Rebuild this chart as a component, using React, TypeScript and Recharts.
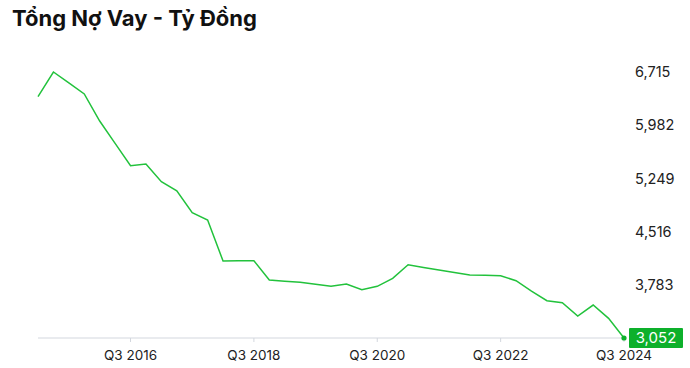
import React from "react";
import { LineChart, Line, XAxis, YAxis } from "recharts";

const quarters = [
  "Q1 2015","Q2 2015","Q3 2015","Q4 2015",
  "Q1 2016","Q2 2016","Q3 2016","Q4 2016",
  "Q1 2017","Q2 2017","Q3 2017","Q4 2017",
  "Q1 2018","Q2 2018","Q3 2018","Q4 2018",
  "Q1 2019","Q2 2019","Q3 2019","Q4 2019",
  "Q1 2020","Q2 2020","Q3 2020","Q4 2020",
  "Q1 2021","Q2 2021","Q3 2021","Q4 2021",
  "Q1 2022","Q2 2022","Q3 2022","Q4 2022",
  "Q1 2023","Q2 2023","Q3 2023","Q4 2023",
  "Q1 2024","Q2 2024","Q3 2024",
];

const debt = [
  6375, 6715, 6565, 6412,
  6040, 5733, 5425, 5448,
  5204, 5080, 4777, 4677,
  4112, 4115, 4116, 3851,
  3834, 3819, 3792, 3764,
  3796, 3717, 3764, 3874,
  4061, 4023, 3988, 3954,
  3920, 3915, 3910, 3841,
  3699, 3566, 3538, 3355,
  3506, 3323, 3052,
];

const xTicks = ["Q3 2016", "Q3 2018", "Q3 2020", "Q3 2022", "Q3 2024"];
const yTicks = [3052, 3783, 4516, 5249, 5982, 6715];

const title = "Tổng Nợ Vay - Tỷ Đồng";

const data = quarters.map((q, i) => ({ q, v: debt[i] }));
const lastValue = debt[debt.length - 1];

const GREEN = "#22c23c";
const BOX = "#0db02b";
const FONT = "Inter, 'Noto Sans', sans-serif";

const fmt = (n: number) => n.toLocaleString("en-US");

const YTick = (props: any) => {
  const { x, y, payload } = props;
  if (payload.value === lastValue) {
    return (
      <g>
        <rect x={x - 6} y={y - 10} width={54} height={20} fill={BOX} rx={1} />
        <text x={x - 6 + 27} y={y} dy="0.355em" textAnchor="middle" fill="#fff" fontSize={15} fontFamily={FONT}>
          {fmt(payload.value)}
        </text>
      </g>
    );
  }
  return (
    <text x={x} y={y} dy="0.355em" textAnchor="start" fill="#222" fontSize={14.5} fontFamily={FONT}>
      {fmt(payload.value)}
    </text>
  );
};

const LastDot = (props: any) => {
  const { cx, cy, index } = props;
  if (index !== data.length - 1) return <g key={index} />;
  return <circle key={index} cx={cx} cy={cy} r={2.6} fill={BOX} />;
};

export default function App() {
  return (
    <div style={{ position: "absolute", left: 0, top: 0, width: 690, height: 368, background: "#fff" }}>
      <div
        style={{
          position: "absolute",
          left: 12,
          top: 5,
          fontFamily: FONT,
          fontWeight: 700,
          fontSize: 22,
          color: "#111",
          whiteSpace: "nowrap",
        }}
      >
        {title}
      </div>
      <LineChart
        width={690}
        height={368}
        data={data}
        margin={{ top: 72, right: 6, bottom: 0, left: 38 }}
      >
        <XAxis
          dataKey="q"
          ticks={xTicks}
          interval={0}
          height={30}
          axisLine={{ stroke: "#d3d7de" }}
          tickLine={{ stroke: "#d3d7de" }}
          tickSize={4}
          tickMargin={8}
          tick={{ fill: "#222", fontSize: 13.5, fontFamily: FONT }}
        />
        <YAxis
          orientation="right"
          width={60}
          domain={[3052, 6715]}
          ticks={yTicks}
          axisLine={false}
          tickLine={false}
          tickSize={6}
          tickMargin={5}
          tick={<YTick />}
        />
        <Line
          type="linear"
          dataKey="v"
          stroke={GREEN}
          strokeWidth={1.5}
          dot={<LastDot />}
          activeDot={false}
          isAnimationActive={false}
        />
      </LineChart>
    </div>
  );
}
